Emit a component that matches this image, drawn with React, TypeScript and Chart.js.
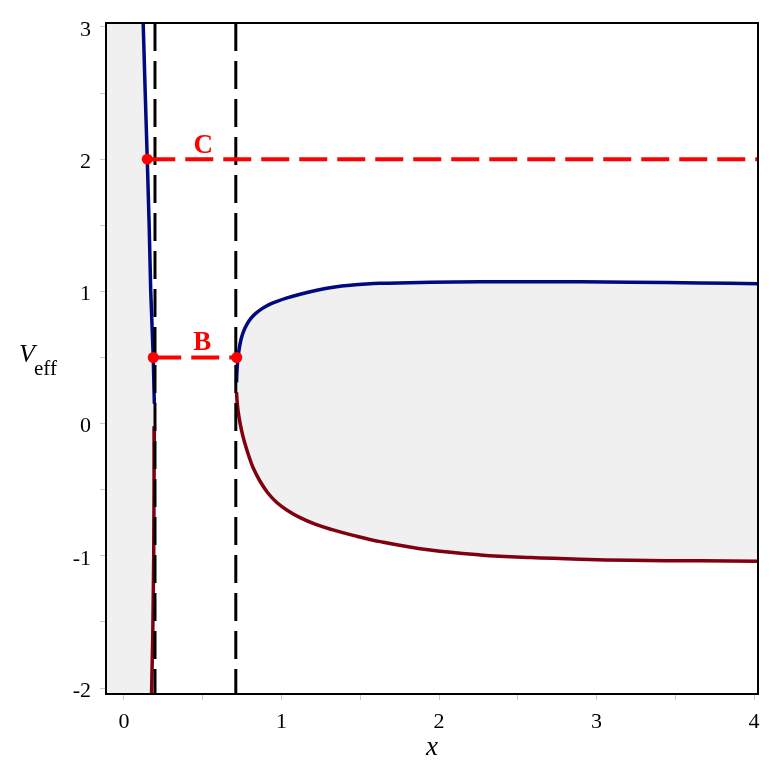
import { useEffect, useRef } from 'react';
import { Chart, registerables } from 'chart.js';

Chart.register(...registerables);

const X_MIN = -0.114;
const X_MAX = 4.025;
const Y_MIN = -2.045;
const Y_MAX = 3.03;

const xTickValues = [0, 0.5, 1, 1.5, 2, 2.5, 3, 3.5, 4];
const yTickValues = [-2, -1.5, -1, -0.5, 0, 0.5, 1, 1.5, 2, 2.5, 3];

// left branch (blue, upper part)
const leftUpperX = [0.122, 0.135, 0.148, 0.16, 0.17, 0.186, 0.193];
const leftUpperY = [3.03, 2.5, 2.0, 1.5, 1.0, 0.5, 0.15];
// left branch (dark red, lower part)
const leftLowerX = [0.193, 0.191, 0.189, 0.183, 0.175];
const leftLowerY = [-0.02, -0.5, -1.0, -1.6, -2.045];

// right branch (blue, upper)
const rightUpperX = [0.7147, 0.7173, 0.723, 0.7319, 0.7446, 0.7611, 0.7814, 0.8069, 0.8386, 0.8767, 0.9212, 0.972, 1.0356, 1.1182, 1.2243, 1.3278, 1.4358, 1.6264, 1.9441, 2.2618, 2.5794, 2.8971, 3.2147, 3.6595, 4.03];
const rightUpperY = [0.3113, 0.3943, 0.4849, 0.5679, 0.6434, 0.7038, 0.7528, 0.7981, 0.8358, 0.8698, 0.9, 0.9249, 0.9506, 0.9785, 1.0087, 1.0313, 1.0464, 1.0608, 1.0691, 1.0725, 1.0736, 1.0725, 1.0691, 1.0638, 1.0585];
// right branch (dark red, lower)
const rightLowerX = [0.7147, 0.7198, 0.7306, 0.7465, 0.7656, 0.791, 0.8215, 0.864, 0.9149, 0.972, 1.0356, 1.1182, 1.2135, 1.3215, 1.4486, 1.6264, 1.9441, 2.2618, 2.5794, 2.8971, 3.2147, 3.6595, 4.03];
const rightLowerY = [0.2358, 0.1453, 0.0472, -0.0509, -0.1415, -0.2396, -0.3377, -0.4358, -0.5264, -0.5981, -0.6547, -0.7113, -0.7604, -0.8019, -0.8434, -0.8925, -0.9566, -0.9928, -1.0132, -1.026, -1.0336, -1.0381, -1.0404];

const vlineX = [0.197, 0.71];

const markerX = [0.148, 0.186, 0.716];
const markerY = [2, 0.5, 0.5];

const levelC = 2;
const levelB = 0.5;

const labelTexts = ['C', 'B'];
const labelX = [0.504, 0.497];
const labelY = [2.05, 0.56];

const BLUE = '#000a80';
const DARKRED = '#800010';
const RED = '#ff0000';
const FILL = 'rgb(240,240,240)';
const SERIF = '"Liberation Serif", "Times New Roman", serif';

const zip = (xs: number[], ys: number[]) => xs.map((x, i) => ({ x, y: ys[i] }));

export default function App() {
  const ref = useRef<HTMLCanvasElement | null>(null);

  useEffect(() => {
    document.body.style.margin = '0';
    const canvas = ref.current;
    if (!canvas) return;

    const leftFill = [
      { x: X_MIN - 0.2, y: Y_MAX + 0.2 },
      { x: leftUpperX[0], y: Y_MAX + 0.2 },
      ...zip(leftUpperX, leftUpperY),
      ...zip(leftLowerX, leftLowerY),
      { x: leftLowerX[leftLowerX.length - 1], y: Y_MIN - 0.2 },
      { x: X_MIN - 0.2, y: Y_MIN - 0.2 },
    ];
    const upper = zip(rightUpperX, rightUpperY);
    const lower = zip(rightLowerX, rightLowerY).reverse();
    const rightFill = [
      ...upper,
      { x: 4.3, y: rightUpperY[rightUpperY.length - 1] },
      { x: 4.3, y: rightLowerY[rightLowerY.length - 1] },
      ...lower,
    ];

    const curve = (data: any[], color: string, tension: number, order: number) => ({
      data,
      borderColor: color,
      borderWidth: 3.5,
      pointRadius: 0,
      tension,
      fill: false,
      order,
    });

    const textPlugin = {
      id: 'texts',
      afterDatasetsDraw(chart: any) {
        const { ctx, scales } = chart;
        ctx.save();
        ctx.fillStyle = RED;
        ctx.font = `bold 27px ${SERIF}`;
        ctx.textAlign = 'center';
        ctx.textBaseline = 'alphabetic';
        labelTexts.forEach((t, i) => {
          ctx.fillText(t, scales.x.getPixelForValue(labelX[i]), scales.y.getPixelForValue(labelY[i]));
        });
        ctx.restore();
      },
      afterDraw(chart: any) {
        const { ctx, chartArea } = chart;
        ctx.save();
        ctx.strokeStyle = '#000';
        ctx.lineWidth = 2;
        ctx.strokeRect(chartArea.left, chartArea.top, chartArea.right - chartArea.left, chartArea.bottom - chartArea.top);
        ctx.fillStyle = '#000';
        ctx.textAlign = 'center';
        ctx.textBaseline = 'alphabetic';
        ctx.font = `italic 27px ${SERIF}`;
        ctx.fillText('x', (chartArea.left + chartArea.right) / 2, 755);
        ctx.textAlign = 'left';
        ctx.font = `italic 26px ${SERIF}`;
        ctx.fillText('V', 19, 362);
        ctx.font = `21px ${SERIF}`;
        ctx.fillText('eff', 34, 375);
        ctx.restore();
      },
    };

    const chart = new Chart(canvas, {
      type: 'line',
      data: {
        datasets: [
          {
            data: zip(markerX, markerY),
            showLine: false,
            pointRadius: 5.5,
            pointBackgroundColor: RED,
            pointBorderColor: RED,
            pointBorderWidth: 0,
            order: 0,
          },
          {
            data: [{ x: markerX[0], y: levelC }, { x: X_MAX, y: levelC }],
            borderColor: RED,
            borderWidth: 4,
            borderDash: [28, 10],
            pointRadius: 0,
            order: 1,
          },
          {
            data: [{ x: markerX[1], y: levelB }, { x: markerX[2], y: levelB }],
            borderColor: RED,
            borderWidth: 4,
            borderDash: [28, 10],
            pointRadius: 0,
            order: 1,
          },
          ...vlineX.map((vx) => ({
            data: [{ x: vx, y: Y_MAX }, { x: vx, y: Y_MIN }],
            borderColor: '#000',
            borderWidth: 3,
            borderDash: [28, 10],
            pointRadius: 0,
            order: 2,
          })),
          curve(zip(leftUpperX, leftUpperY), BLUE, 0, 3),
          curve(zip(leftLowerX, leftLowerY), DARKRED, 0, 3),
          curve(zip(rightUpperX, rightUpperY), BLUE, 0.4, 3),
          curve(zip(rightLowerX, rightLowerY), DARKRED, 0.4, 3),
          {
            data: leftFill,
            borderWidth: 0,
            borderColor: 'rgba(0,0,0,0)',
            backgroundColor: FILL,
            pointRadius: 0,
            tension: 0,
            fill: 'shape',
            order: 4,
          },
          {
            data: rightFill,
            borderWidth: 0,
            borderColor: 'rgba(0,0,0,0)',
            backgroundColor: FILL,
            pointRadius: 0,
            tension: 0.4,
            fill: 'shape',
            order: 4,
          },
        ] as any,
      },
      options: {
        animation: false,
        responsive: false,
        maintainAspectRatio: false,
        layout: { padding: { top: 23, right: 14, left: 0, bottom: 0 } },
        plugins: { legend: { display: false }, tooltip: { enabled: false } },
        scales: {
          x: {
            type: 'linear',
            min: X_MIN,
            max: X_MAX,
            afterBuildTicks: (axis: any) => {
              axis.ticks = xTickValues.map((v) => ({ value: v }));
            },
            afterFit: (axis: any) => {
              axis.height = 78;
            },
            grid: { drawOnChartArea: false, drawTicks: true, tickLength: 6, color: '#c8c8c8' },
            border: { display: false },
            ticks: {
              padding: 9,
              color: '#000',
              font: { family: SERIF, size: 22 },
              maxRotation: 0,
              autoSkip: false,
              callback: (v: any) => (Number.isInteger(Number(v)) ? String(v) : ''),
            },
          },
          y: {
            type: 'linear',
            min: Y_MIN,
            max: Y_MAX,
            afterBuildTicks: (axis: any) => {
              axis.ticks = yTickValues.map((v) => ({ value: v }));
            },
            afterFit: (axis: any) => {
              axis.width = 106;
            },
            grid: { drawOnChartArea: false, drawTicks: true, tickLength: 6, color: '#c8c8c8' },
            border: { display: false },
            ticks: {
              padding: 9,
              color: '#000',
              labelOffset: 3,
              font: { family: SERIF, size: 22 },
              autoSkip: false,
              callback: (v: any) => (Number.isInteger(Number(v)) ? String(v) : ''),
            },
          },
        },
      } as any,
      plugins: [textPlugin],
    });

    return () => chart.destroy();
  }, []);

  return (
    <div style={{ position: 'absolute', left: 0, top: 0, width: 772, height: 772 }}>
      <canvas ref={ref} width={772} height={772} style={{ width: 772, height: 772 }} />
    </div>
  );
}
